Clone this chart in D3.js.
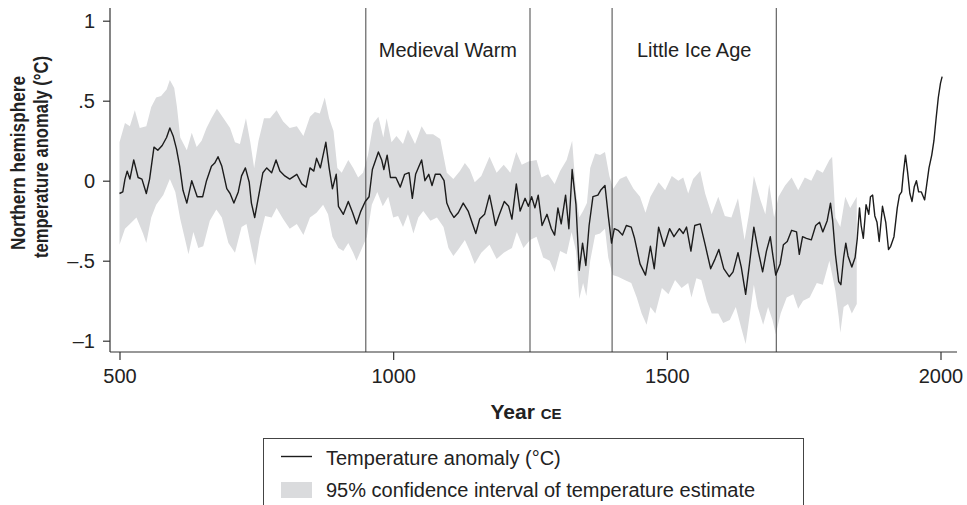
<!DOCTYPE html>
<html>
<head>
<meta charset="utf-8">
<script src="https://cdn.jsdelivr.net/npm/d3@7"></script>
<style>
  body { margin: 0; background: #fff; }
  text { font-family: "Liberation Sans", Arial, Helvetica, sans-serif; fill: #222; }
</style>
</head>
<body>
<script>
// reconstruction: northern hemisphere temperature anomaly, 500-2000 CE

var years = [500,506,510,514,519,526,534,541,549,555,563,570,578,586,592,598,604,610,616,623,632,642,652,659,668,674,680,687,696,702,709,717,723,730,737,741,747,754,762,769,778,786,793,802,811,824,833,841,848,855,860,867,877,883,889,896,900,909,918,926,933,941,949,956,962,973,979,983,989,995,1005,1013,1021,1029,1035,1041,1052,1058,1065,1071,1077,1086,1093,1098,1104,1111,1119,1128,1137,1146,1151,1158,1167,1176,1182,1187,1193,1203,1211,1217,1225,1232,1241,1247,1253,1259,1265,1272,1281,1289,1295,1301,1307,1315,1321,1327,1334,1340,1346,1352,1358,1365,1374,1379,1387,1393,1399,1404,1411,1419,1426,1435,1441,1451,1461,1470,1477,1485,1495,1505,1513,1523,1530,1536,1544,1551,1561,1570,1580,1588,1595,1604,1614,1621,1630,1636,1644,1651,1659,1667,1675,1682,1689,1693,1699,1707,1713,1720,1728,1737,1742,1748,1755,1764,1772,1779,1785,1793,1799,1803,1808,1814,1818,1823,1827,1831,1838,1844,1848,1852,1855,1859,1864,1869,1872,1876,1880,1884,1888,1894,1900,1905,1909,1915,1921,1925,1929,1932,1936,1940,1944,1948,1952,1956,1960,1965,1971,1975,1979,1984,1988,1992,1996,2000,2003];
var anomaly = [-0.08,-0.07,0.01,0.06,0.01,0.13,0.02,0.01,-0.08,0.01,0.21,0.19,0.22,0.27,0.33,0.28,0.20,0.09,-0.06,-0.14,0.00,-0.10,-0.10,0.00,0.09,0.11,0.15,0.09,-0.05,-0.08,-0.14,-0.07,0.03,0.08,-0.01,-0.14,-0.23,-0.10,0.05,0.08,0.05,0.13,0.06,0.03,0.01,0.04,-0.02,-0.04,0.08,0.06,0.14,0.08,0.24,0.08,-0.05,0.04,-0.16,-0.21,-0.13,-0.20,-0.27,-0.19,-0.13,-0.10,0.07,0.18,0.13,0.07,0.16,0.02,0.02,-0.04,0.04,0.05,-0.11,0.04,0.13,0.00,0.04,-0.03,0.04,0.04,0.00,-0.14,-0.19,-0.23,-0.20,-0.14,-0.19,-0.28,-0.33,-0.24,-0.21,-0.09,-0.19,-0.28,-0.22,-0.13,-0.16,-0.24,-0.02,-0.19,-0.11,-0.16,-0.10,-0.17,-0.09,-0.28,-0.21,-0.30,-0.34,-0.17,-0.27,-0.09,-0.30,0.07,-0.15,-0.56,-0.39,-0.53,-0.28,-0.10,-0.09,-0.06,-0.03,-0.22,-0.39,-0.30,-0.31,-0.34,-0.28,-0.29,-0.36,-0.52,-0.59,-0.41,-0.55,-0.29,-0.41,-0.30,-0.35,-0.30,-0.33,-0.29,-0.44,-0.28,-0.27,-0.40,-0.55,-0.49,-0.43,-0.55,-0.60,-0.57,-0.45,-0.54,-0.71,-0.52,-0.29,-0.44,-0.57,-0.44,-0.35,-0.45,-0.59,-0.52,-0.40,-0.38,-0.31,-0.32,-0.46,-0.35,-0.36,-0.37,-0.28,-0.26,-0.32,-0.25,-0.14,-0.25,-0.46,-0.63,-0.65,-0.48,-0.39,-0.47,-0.54,-0.48,-0.36,-0.17,-0.28,-0.36,-0.15,-0.21,-0.10,-0.09,-0.22,-0.26,-0.38,-0.16,-0.26,-0.43,-0.41,-0.35,-0.17,-0.09,-0.07,0.04,0.16,0.05,-0.08,-0.13,-0.04,0.00,-0.07,-0.07,-0.12,-0.02,0.08,0.16,0.25,0.39,0.52,0.61,0.65];

var upperYears = [500,510,519,528,537,549,558,567,576,586,592,600,605,611,623,632,641,650,659,668,678,690,702,711,720,731,739,746,754,764,775,787,799,811,824,836,848,857,866,875,883,891,898,906,918,927,936,945,954,964,973,982,988,997,1006,1018,1027,1040,1052,1061,1073,1086,1098,1110,1122,1131,1140,1149,1161,1176,1189,1202,1214,1225,1235,1247,1262,1271,1283,1295,1305,1317,1327,1334,1340,1347,1354,1360,1369,1378,1387,1395,1402,1414,1426,1439,1451,1461,1470,1485,1497,1509,1521,1530,1539,1548,1561,1570,1582,1594,1606,1618,1630,1642,1651,1659,1671,1680,1687,1696,1704,1716,1728,1740,1752,1764,1774,1785,1797,1802,1808,1817,1826,1835,1847];
var upper = [0.24,0.36,0.34,0.44,0.33,0.34,0.46,0.52,0.53,0.57,0.63,0.58,0.46,0.27,0.19,0.30,0.21,0.25,0.33,0.39,0.45,0.39,0.33,0.24,0.23,0.39,0.24,0.08,0.25,0.39,0.39,0.44,0.37,0.33,0.34,0.28,0.40,0.43,0.42,0.52,0.39,0.31,0.08,0.05,0.13,0.08,0.02,0.05,0.16,0.36,0.40,0.27,0.39,0.24,0.28,0.23,0.32,0.23,0.34,0.29,0.29,0.26,0.05,0.01,0.06,0.11,0.07,-0.01,0.03,0.15,0.05,0.10,0.05,0.18,0.10,0.12,0.13,0.02,0.04,-0.02,0.06,0.13,0.25,-0.07,-0.23,-0.19,-0.14,0.08,0.17,0.16,0.18,0.03,-0.05,0.01,0.03,-0.05,-0.10,-0.20,-0.10,-0.01,-0.06,0.03,0.00,0.02,-0.08,0.01,0.06,-0.08,-0.21,-0.10,-0.22,-0.23,-0.11,-0.37,-0.19,0.03,-0.12,-0.21,-0.02,-0.23,-0.10,-0.03,0.02,-0.06,0.02,0.00,0.07,0.05,0.13,0.15,-0.23,-0.29,-0.10,-0.17,-0.10];

var lowerYears = [500,510,519,531,543,549,558,567,580,592,602,611,620,626,635,644,653,665,677,687,699,711,723,732,741,748,756,766,778,787,799,811,824,836,848,860,872,881,889,900,909,918,927,933,942,952,961,971,981,991,1000,1009,1018,1027,1037,1046,1055,1068,1080,1092,1101,1110,1119,1131,1140,1149,1161,1176,1189,1202,1217,1226,1238,1250,1262,1274,1286,1295,1305,1317,1326,1334,1340,1347,1353,1360,1369,1378,1387,1393,1401,1411,1423,1435,1445,1454,1463,1470,1479,1491,1503,1515,1527,1539,1545,1554,1563,1573,1582,1594,1603,1615,1626,1636,1644,1651,1659,1666,1676,1685,1693,1699,1708,1719,1731,1740,1749,1761,1774,1785,1797,1808,1814,1817,1823,1831,1838,1847];
var lower = [-0.40,-0.30,-0.27,-0.23,-0.33,-0.39,-0.23,-0.15,-0.09,0.01,-0.07,-0.24,-0.37,-0.46,-0.32,-0.42,-0.41,-0.25,-0.18,-0.23,-0.39,-0.45,-0.29,-0.27,-0.42,-0.53,-0.36,-0.22,-0.23,-0.17,-0.24,-0.30,-0.27,-0.34,-0.23,-0.20,-0.15,-0.21,-0.35,-0.42,-0.44,-0.39,-0.45,-0.50,-0.43,-0.35,-0.15,-0.07,-0.16,-0.10,-0.23,-0.22,-0.29,-0.21,-0.33,-0.23,-0.19,-0.25,-0.23,-0.29,-0.42,-0.47,-0.43,-0.37,-0.44,-0.52,-0.45,-0.40,-0.49,-0.45,-0.42,-0.32,-0.42,-0.37,-0.35,-0.48,-0.50,-0.57,-0.44,-0.46,-0.32,-0.44,-0.74,-0.64,-0.72,-0.50,-0.34,-0.33,-0.30,-0.48,-0.59,-0.60,-0.62,-0.64,-0.73,-0.83,-0.90,-0.79,-0.83,-0.67,-0.71,-0.62,-0.67,-0.64,-0.73,-0.61,-0.62,-0.75,-0.83,-0.83,-0.89,-0.87,-0.79,-0.92,-1.02,-0.85,-0.65,-0.79,-0.90,-0.79,-0.87,-0.96,-0.83,-0.73,-0.71,-0.80,-0.75,-0.73,-0.64,-0.65,-0.50,-0.69,-0.85,-0.95,-0.79,-0.77,-0.83,-0.77];

var periods = [
  {name: "Medieval Warm", start: 950, end: 1250},
  {name: "Little Ice Age", start: 1400, end: 1700}
];
var yTicks = [1, 0.5, 0, -0.5, -1];
var yTickLabels = ["1", ".5", "0", "\u2013.5", "\u20131"];
var xTicks = [500, 1000, 1500, 2000];

var width = 967, height = 505;

var svg = d3.select("body").append("svg")
    .attr("width", width)
    .attr("height", height);

var x = d3.scaleLinear().domain([500, 2000]).range([119.5, 940.5]);
var y = d3.scaleLinear().domain([-1, 1]).range([340.7, 20.7]);

var axisY = 352, axisX = 110, topY = 8;

// confidence band: upper edge forward, lower edge back
var band = [];
upperYears.forEach(function(d, i){ band.push([d, upper[i]]); });
for (var i = lowerYears.length - 1; i >= 0; i--) band.push([lowerYears[i], lower[i]]);

svg.append("path")
    .datum(band)
    .attr("fill", "#dadbdd")
    .attr("stroke", "none")
    .attr("d", d3.line()
        .x(function(d){ return x(d[0]); })
        .y(function(d){ return y(d[1]); })
        .curve(d3.curveLinearClosed));

// period boundaries
var bounds = [];
periods.forEach(function(p){ bounds.push(p.start, p.end); });
svg.selectAll(".bound")
    .data(bounds)
    .enter().append("line")
    .attr("class", "bound")
    .attr("x1", function(d){ return x(d); })
    .attr("x2", function(d){ return x(d); })
    .attr("y1", topY)
    .attr("y2", axisY)
    .style("stroke", "#555")
    .style("stroke-width", 1.1);

svg.selectAll(".period")
    .data(periods)
    .enter().append("text")
    .attr("class", "period")
    .attr("x", function(d){ return (x(d.start) + x(d.end)) / 2; })
    .attr("y", 57)
    .attr("text-anchor", "middle")
    .style("font-size", "20px")
    .text(function(d){ return d.name; });

// temperature line
svg.append("path")
    .datum(years.map(function(d, i){ return [d, anomaly[i]]; }))
    .attr("fill", "none")
    .attr("stroke", "#1c1c1c")
    .attr("stroke-width", 1.4)
    .attr("stroke-linejoin", "round")
    .attr("d", d3.line()
        .x(function(d){ return x(d[0]); })
        .y(function(d){ return y(d[1]); }));

// axes
var gy = svg.append("g")
    .attr("transform", "translate(" + axisX + ",0)")
    .call(d3.axisLeft(y).tickValues(yTicks).tickSize(7).tickPadding(8)
        .tickFormat(function(d, i){ return yTickLabels[i]; }));
gy.select(".domain").attr("d", "M0," + topY + "V" + axisY);

var gx = svg.append("g")
    .attr("transform", "translate(0," + axisY + ")")
    .call(d3.axisBottom(x).tickValues(xTicks).tickSize(8).tickPadding(9)
        .tickFormat(d3.format("d")));
gx.select(".domain").attr("d", "M" + axisX + ",0H957");

svg.selectAll(".tick text")
    .style("font-size", "20px")
    .style("font-family", "'Liberation Sans', Arial, sans-serif")
    .style("fill", "#222");
svg.selectAll(".domain, .tick line")
    .style("stroke", "#333")
    .style("stroke-width", 1.2);

// axis titles (narrow bold face in the original, squeezed to its length)
var ytitle = ["Northern hemisphere", "temperature anomaly (\u00b0C)"];
var ytitleLen = [174, 202];
var ytitleMid = [163, 157];
svg.selectAll(".ytitle")
    .data(ytitle)
    .enter().append("text")
    .attr("class", "ytitle")
    .attr("transform", function(d, i){ return "translate(" + (25 + i * 23) + "," + ytitleMid[i] + ") rotate(-90)"; })
    .attr("text-anchor", "middle")
    .attr("textLength", function(d, i){ return ytitleLen[i]; })
    .attr("lengthAdjust", "spacingAndGlyphs")
    .style("font-size", "20px")
    .style("font-weight", "bold")
    .text(function(d){ return d; });

var xt = svg.append("text")
    .attr("x", 526)
    .attr("y", 419)
    .attr("text-anchor", "middle")
    .style("font-weight", "bold")
    .style("font-size", "21px");
xt.append("tspan").text("Year ");
xt.append("tspan").style("font-size", "15px").text("CE");

// legend
var lg = svg.append("g");
lg.append("rect")
    .attr("x", 263.5).attr("y", 438.5)
    .attr("width", 540).attr("height", 120)
    .style("fill", "none")
    .style("stroke", "#444")
    .style("stroke-width", 1);
lg.append("line")
    .attr("x1", 281).attr("x2", 312)
    .attr("y1", 456.5).attr("y2", 456.5)
    .style("stroke", "#1c1c1c").style("stroke-width", 1.4);
lg.append("rect")
    .attr("x", 281).attr("y", 482)
    .attr("width", 31).attr("height", 16)
    .style("fill", "#dadbdd");
lg.append("text").attr("x", 326).attr("y", 465)
    .style("font-size", "20px").text("Temperature anomaly (\u00b0C)");
lg.append("text").attr("x", 326).attr("y", 497)
    .style("font-size", "20px").text("95% confidence interval of temperature estimate");
</script>
</body>
</html>
